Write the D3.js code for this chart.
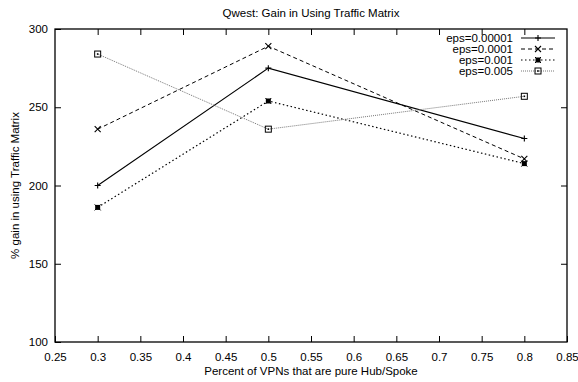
<!DOCTYPE html>
<html><head><meta charset="utf-8">
<script src="https://cdnjs.cloudflare.com/ajax/libs/d3/7.8.5/d3.min.js"></script>
<style>body{margin:0;background:#fff}svg{display:block;font-family:"Liberation Sans",Arial,sans-serif}</style>
</head><body><svg id="c" width="578" height="382"></svg>
<script>
const xValues = [0.3, 0.5, 0.8];
const seriesNames = ["eps=0.00001", "eps=0.0001", "eps=0.001", "eps=0.005"];
const eps00001 = [200, 275, 230];
const eps0001 = [236, 289, 217];
const eps001 = [186, 254, 214];
const eps005 = [284, 236, 257];
const xTicks = [0.25,0.3,0.35,0.4,0.45,0.5,0.55,0.6,0.65,0.7,0.75,0.8,0.85];
const yTicks = [100,150,200,250,300];
const allSeries = [eps00001, eps0001, eps001, eps005];

const FS = "11.5px";
const svg = d3.select("#c");
const L=55, R=567, T=29, B=342;
const x = d3.scaleLinear().domain([0.25,0.85]).range([L,R]);
const y = d3.scaleLinear().domain([100,300]).range([B,T]);

const styles = [
  {stroke:"#000", dash:null, w:1.1, mark:"plus"},
  {stroke:"#000", dash:"4,3", w:1, mark:"cross"},
  {stroke:"#000", dash:"1.5,2.5", w:1.2, mark:"fsquare"},
  {stroke:"#777", dash:"1,1", w:1, mark:"osquare"}
];

const tl = 6;
const xb = d3.axisBottom(x).tickValues(xTicks).tickFormat(d=>String(d)).tickSizeInner(-tl).tickSizeOuter(0).tickPadding(11);
const xt = d3.axisTop(x).tickValues(xTicks.slice(1,-1)).tickFormat("").tickSizeInner(-tl).tickSizeOuter(0);
const yl = d3.axisLeft(y).tickValues(yTicks).tickFormat(d=>String(d)).tickSizeInner(-tl).tickSizeOuter(0).tickPadding(7);
const yr = d3.axisRight(y).tickValues(yTicks.slice(1,-1)).tickFormat("").tickSizeInner(-tl).tickSizeOuter(0);
function styleAx(g){g.selectAll("path").remove();g.selectAll("line").attr("stroke","#000");g.selectAll("text").attr("fill","#000").style("font-size",FS).style("font-family","Liberation Sans, Arial, sans-serif");}
svg.append("g").attr("transform",`translate(0,${B})`).call(xb).call(styleAx);
svg.append("g").attr("transform",`translate(0,${T})`).call(xt).call(styleAx);
svg.append("g").attr("transform",`translate(${L},0)`).call(yl).call(styleAx);
svg.append("g").attr("transform",`translate(${R},0)`).call(yr).call(styleAx);
svg.append("rect").attr("x",L).attr("y",T).attr("width",R-L).attr("height",B-T).attr("fill","none").attr("stroke","#000").attr("stroke-width",1.3);

function marker(g, type, cx, cy, col){
  const s=3;
  if(type==="plus"){
    g.append("path").attr("d",`M${cx-s},${cy}H${cx+s}M${cx},${cy-s}V${cy+s}`).attr("stroke",col).attr("stroke-width",1.1);
  } else if(type==="cross"){
    g.append("path").attr("d",`M${cx-s},${cy-s}L${cx+s},${cy+s}M${cx-s},${cy+s}L${cx+s},${cy-s}`).attr("stroke",col).attr("stroke-width",1.1);
  } else if(type==="fsquare"){
    g.append("rect").attr("x",cx-2.5).attr("y",cy-2.5).attr("width",5).attr("height",5).attr("fill",col);
    g.append("path").attr("d",`M${cx-s},${cy-s}L${cx+s},${cy+s}M${cx-s},${cy+s}L${cx+s},${cy-s}`).attr("stroke",col).attr("stroke-width",1);
  } else {
    g.append("rect").attr("x",cx-3).attr("y",cy-3).attr("width",6).attr("height",6).attr("fill","none").attr("stroke","#000").attr("stroke-width",1);
    g.append("rect").attr("x",cx-0.8).attr("y",cy-0.8).attr("width",1.6).attr("height",1.6).attr("fill","#000");
  }
}

const line = d3.line().x((d,i)=>x(xValues[i])).y(d=>y(d));
allSeries.forEach((s,k)=>{
  const st=styles[k];
  const g=svg.append("g");
  g.append("path").datum(s).attr("d",line).attr("fill","none").attr("stroke",st.stroke).attr("stroke-width",st.w).attr("stroke-dasharray",st.dash);
  s.forEach((v,i)=>marker(g, st.mark, x(xValues[i]), y(v), "#000"));
});

seriesNames.forEach((n,k)=>{
  const st=styles[k];
  const yy = 38 + k*11;
  svg.append("text").attr("x",513).attr("y",yy).attr("dy","0.35em").attr("text-anchor","end").style("font-size",FS).text(n);
  svg.append("line").attr("x1",521).attr("x2",555).attr("y1",yy).attr("y2",yy).attr("stroke",st.stroke).attr("stroke-width",st.w).attr("stroke-dasharray",st.dash);
  marker(svg, st.mark, 538, yy, "#000");
});

svg.append("text").attr("x",(L+R)/2).attr("y",17).attr("text-anchor","middle").style("font-size",FS).text("Qwest: Gain in Using Traffic Matrix");
svg.append("text").attr("x",(L+R)/2).attr("y",375).attr("text-anchor","middle").style("font-size",FS).text("Percent of VPNs that are pure Hub/Spoke");
svg.append("text").attr("transform",`translate(19,${(T+B)/2}) rotate(-90)`).attr("text-anchor","middle").style("font-size",FS).text("% gain in using Traffic Matrix");
</script></body></html>
